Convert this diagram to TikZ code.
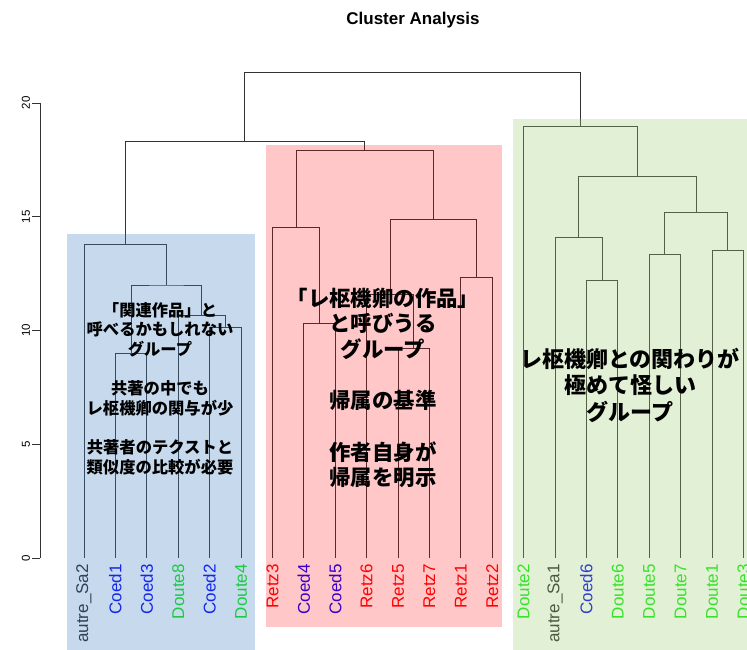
\documentclass[tikz,border=0pt]{standalone}
\usepackage{fontspec}
\setmainfont{Liberation Sans}
\newfontfamily\jpfont{Noto Sans CJK JP}
\usetikzlibrary{calc}

\definecolor{coedblue}{RGB}{0,0,255}
\definecolor{doutegreen}{RGB}{10,235,10}
\definecolor{retzred}{RGB}{255,0,0}
\definecolor{autregray}{RGB}{40,40,40}
\definecolor{bluegrp}{RGB}{65,128,195}
\definecolor{redgrp}{RGB}{255,0,0}
\definecolor{greengrp}{RGB}{159,205,115}

\begin{document}
\begin{tikzpicture}[
        x=1pt, y=1pt,
        branch/.style={draw=black!80, line width=0.9pt},
        tick/.style={draw=black!80, line width=0.9pt},
        ticklabel/.style={rotate=90, font=\fontsize{11.5}{12}\selectfont},
        leaf/.style={rotate=90, anchor=east, inner sep=0pt, font=\fontsize{17}{17}\selectfont},
        groupbox/.style={draw=none, fill opacity=0.3},
        note/.style={align=center, text=black, font=\jpfont\bfseries\fontsize{16.3}{19.6}\selectfont},
        bignote/.style={align=center, text=black, font=\jpfont\bfseries\fontsize{21.4}{25.7}\selectfont}
    ]
        \useasboundingbox (0,0) rectangle (747,650);
        \node[font=\bfseries\fontsize{17}{20}\selectfont] (title) at (413,630) {Cluster Analysis};

        \begin{scope}[yshift=92pt, y=22.75pt]
            % height axis
            \draw[tick] (40,0) -- (40,20);
            \foreach \v in {0,5,...,20} {
                \draw[tick] (40,\v) -- (32,\v);
                \node[ticklabel] (tick\v) at (26,\v) {\v};
            }

            % leaves
            \foreach \name/\lab/\col [count=\i from 0] in {
                sa2/autre\_Sa2/autregray, coed1/Coed1/coedblue, coed3/Coed3/coedblue,
                doute8/Doute8/doutegreen, coed2/Coed2/coedblue, doute4/Doute4/doutegreen,
                retz3/Retz3/retzred, coed4/Coed4/coedblue, coed5/Coed5/coedblue,
                retz6/Retz6/retzred, retz5/Retz5/retzred, retz7/Retz7/retzred,
                retz1/Retz1/retzred, retz2/Retz2/retzred, doute2/Doute2/doutegreen,
                sa1/autre\_Sa1/autregray, coed6/Coed6/coedblue, doute6/Doute6/doutegreen,
                doute5/Doute5/doutegreen, doute7/Doute7/doutegreen, doute1/Doute1/doutegreen,
                doute3/Doute3/doutegreen} {
                \coordinate (\name) at ({84+31.4*\i},0);
                \node[leaf, text=\col] (\name-lab) at ([yshift=-6pt]\name) {\lab};
            }

            % merges: name/left/right/height
            \foreach \m/\l/\r/\h in {
                c13/coed1/coed3/8.97, c2d4/coed2/doute4/10.15, d8g/doute8/c2d4/10.68,
                lsub/c13/d8g/12.0, lgrp/sa2/lsub/13.8,
                c45/coed4/coed5/10.33, r3g/retz3/c45/14.51,
                r57/retz5/retz7/9.19, r6g/retz6/r57/11.6, r12/retz1/retz2/12.31,
                rsub/r6g/r12/14.9, mgrp/r3g/rsub/17.9, lm/lgrp/mgrp/18.33,
                c6d6/coed6/doute6/12.18, s1g/sa1/c6d6/14.07,
                d57/doute5/doute7/13.36, d13/doute1/doute3/13.54, dsub/d57/d13/15.21,
                rsubb/s1g/dsub/16.79, rgrp/doute2/rsubb/18.95,
                root/lm/rgrp/21.33} {
                \path (\l) -- (\r) coordinate[pos=0.5] (mid);
                \coordinate (\m) at (mid |- 0,\h);
                \draw[branch] (\l) |- (\m) -| (\r);
            }
        \end{scope}

        % group boxes
        \fill[groupbox, fill=bluegrp] (67,0) rectangle (255,416);
        \fill[groupbox, fill=redgrp, fill opacity=0.22] (266,23) rectangle (502,505);
        \fill[groupbox, fill=greengrp] (513,0) rectangle (747,531);

        \node[note] (relgrp) at (160,261.5) {「関連作品」と\\呼べるかもしれない\\グループ\\[19.6pt]共著の中でも\\レ枢機卿の関与が少\\[19.6pt]共著者のテクストと\\類似度の比較が必要};
        \node[bignote] (retzgrp) at (383,262) {「レ枢機卿の作品」\\と呼びうる\\グループ\\[25.7pt]帰属の基準\\[25.7pt]作者自身が\\帰属を明示};
        \node[bignote, font=\jpfont\bfseries\fontsize{22}{26.5}\selectfont] (doubtgrp) at (630,265) {レ枢機卿との関わりが\\極めて怪しい\\グループ};
    \end{tikzpicture}
\end{document}
